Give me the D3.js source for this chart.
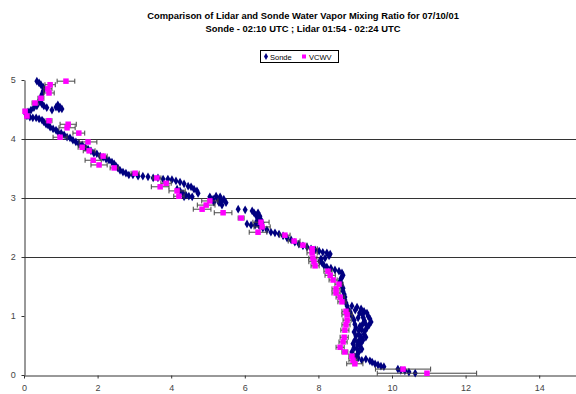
<!DOCTYPE html>
<html>
<head>
<meta charset="utf-8">
<script src="https://cdn.jsdelivr.net/npm/d3@7"></script>
<style>
  body { margin: 0; background: #ffffff; }
  svg { display: block; font-family: "Liberation Sans", Arial, sans-serif; }
</style>
</head>
<body>
<div id="chart"></div>
<script>
const titleLines = [
  'Comparison of Lidar and Sonde Water Vapor Mixing Ratio for 07/10/01',
  'Sonde - 02:10 UTC ; Lidar 01:54 - 02:24 UTC'
];
const seriesNames = ['Sonde', 'VCWV'];
const xTicks = [0, 2, 4, 6, 8, 10, 12, 14];
const yTicks = [0, 1, 2, 3, 4, 5];
const gridLevels = [2, 3, 4];

// sonde: [mixing ratio g/kg, altitude km]
const sondeData = [
  [0.35, 4.98], [0.41, 4.95], [0.46, 4.92], [0.52, 4.88], [0.54, 4.85], [0.52, 4.81], [0.49, 4.76],
  [0.46, 4.71], [0.43, 4.66], [0.43, 4.63], [0.49, 4.59], [0.54, 4.56], [0.62, 4.53], [0.76, 4.49],
  [0.87, 4.54], [0.92, 4.58], [0.98, 4.54], [1.03, 4.51], [0.95, 4.51], [0.35, 4.56], [0.27, 4.53],
  [0.19, 4.49], [0.11, 4.46], [0.05, 4.42], [0.08, 4.39], [0.16, 4.37], [0.24, 4.36], [0.33, 4.36],
  [0.41, 4.34], [0.49, 4.32], [0.54, 4.29], [0.60, 4.25], [0.65, 4.24], [0.71, 4.20], [0.79, 4.17],
  [0.87, 4.15], [0.92, 4.12], [1.01, 4.10], [1.09, 4.07], [1.17, 4.03], [1.25, 4.02], [1.33, 3.98],
  [1.41, 3.95], [1.49, 3.92], [1.58, 3.90], [1.66, 3.86], [1.74, 3.83], [1.82, 3.80], [1.90, 3.76],
  [1.98, 3.75], [2.07, 3.71], [2.15, 3.69], [2.23, 3.66], [2.31, 3.64], [2.39, 3.61], [2.45, 3.58],
  [2.50, 3.54], [2.55, 3.51], [2.61, 3.47], [2.69, 3.44], [2.77, 3.42], [2.85, 3.39], [2.96, 3.39],
  [3.10, 3.37], [3.23, 3.37], [3.37, 3.36], [3.51, 3.34], [3.64, 3.34], [3.78, 3.32], [3.91, 3.32],
  [4.02, 3.31], [4.13, 3.29], [4.24, 3.27], [4.35, 3.24], [4.46, 3.20], [4.54, 3.19], [4.62, 3.15],
  [4.70, 3.12], [4.73, 3.08], [4.16, 3.15], [4.24, 3.12], [4.32, 3.08], [4.40, 3.05], [4.48, 3.03],
  [4.57, 3.02], [4.35, 3.02], [5.05, 3.02], [5.14, 2.98], [5.22, 3.03], [5.27, 2.97], [5.33, 3.02],
  [5.38, 2.95], [5.43, 2.98], [5.30, 2.92], [5.38, 2.88], [5.16, 2.93], [5.49, 2.92], [5.82, 2.81],
  [6.01, 2.80], [6.20, 2.78], [6.25, 2.75], [6.30, 2.71], [6.36, 2.75], [6.41, 2.69], [6.36, 2.66],
  [6.44, 2.63], [6.33, 2.61], [6.47, 2.58], [6.06, 2.56], [6.17, 2.54], [6.28, 2.54], [6.39, 2.53],
  [6.49, 2.49], [6.60, 2.46], [6.71, 2.42], [6.82, 2.41], [6.93, 2.39], [7.04, 2.36], [7.15, 2.32],
  [7.26, 2.29], [7.36, 2.25], [7.47, 2.22], [7.58, 2.19], [7.69, 2.17], [7.80, 2.14], [7.91, 2.12],
  [8.02, 2.10], [8.12, 2.08], [8.23, 2.07], [8.32, 2.05], [8.29, 2.02], [8.18, 1.98], [8.07, 1.97],
  [8.04, 1.93], [8.10, 1.90], [8.15, 1.86], [8.23, 1.83], [8.34, 1.81], [8.45, 1.78], [8.56, 1.76],
  [8.64, 1.73], [8.67, 1.69], [8.64, 1.66], [8.61, 1.63], [8.59, 1.59], [8.61, 1.56], [8.64, 1.51],
  [8.67, 1.47], [8.67, 1.42], [8.70, 1.37], [8.72, 1.32], [8.72, 1.27], [8.75, 1.22], [8.78, 1.17],
  [8.80, 1.12], [8.91, 1.17], [9.05, 1.15], [9.16, 1.12], [9.24, 1.08], [9.32, 1.05], [9.35, 1.00],
  [9.40, 0.95], [9.43, 0.90], [9.38, 0.85], [9.32, 0.80], [9.27, 0.75], [9.24, 0.69], [9.29, 0.64],
  [9.21, 0.59], [9.16, 0.54], [9.13, 0.49], [9.18, 0.44], [9.10, 0.39], [9.05, 0.34], [8.99, 0.31],
  [8.86, 1.07], [8.91, 1.00], [8.97, 0.93], [8.99, 0.86], [9.02, 0.80], [8.97, 0.73], [9.02, 0.66],
  [8.99, 0.59], [8.94, 0.53], [8.97, 0.46], [8.91, 0.39], [9.08, 0.97], [9.13, 0.83], [9.10, 0.69],
  [9.08, 0.56], [9.05, 0.44], [9.20, 1.02], [9.25, 0.92], [9.20, 0.86], [9.18, 0.77], [9.16, 0.64],
  [9.13, 0.60], [9.06, 0.51], [9.22, 0.97], [9.28, 0.87], [9.12, 1.05], [9.00, 1.10], [9.10, 0.75],
  [9.08, 0.29], [9.18, 0.25], [9.29, 0.27], [9.40, 0.24], [9.46, 0.22],
  [9.54, 0.19], [9.62, 0.17], [9.70, 0.15], [9.78, 0.14], [10.16, 0.10], [10.24, 0.08], [10.35, 0.07],
  [10.46, 0.05], [10.63, 0.03]
];

// lidar: [mixing ratio g/kg, altitude km, error g/kg]
const lidarData = [
  [1.14, 4.98, 0.24], [0.71, 4.92, 0.14], [0.65, 4.85, 0.11], [0.68, 4.78, 0.14], [0.46, 4.69, 0.08],
  [0.30, 4.61, 0.08], [0.03, 4.47, 0.05], [0.08, 4.39, 0.05], [0.68, 4.31, 0.08], [1.20, 4.25, 0.22],
  [1.17, 4.19, 0.22], [1.49, 4.10, 0.16], [0.98, 4.03, 0.19], [1.74, 3.95, 0.24], [1.58, 3.86, 0.11],
  [1.77, 3.80, 0.16], [2.15, 3.71, 0.11], [1.88, 3.64, 0.22], [2.04, 3.56, 0.22], [2.45, 3.51, 0.11],
  [3.02, 3.42, 0.11], [3.61, 3.34, 0.11], [3.86, 3.25, 0.14], [3.70, 3.19, 0.24], [4.16, 3.12, 0.22],
  [4.21, 3.03, 0.14], [5.05, 2.95, 0.22], [4.95, 2.88, 0.24], [4.84, 2.81, 0.24], [5.41, 2.75, 0.24],
  [5.90, 2.66, 0.08], [6.44, 2.59, 0.22], [6.47, 2.51, 0.22], [6.36, 2.42, 0.24], [7.09, 2.37, 0.14],
  [7.34, 2.27, 0.16], [7.58, 2.20, 0.11], [7.83, 2.14, 0.14], [7.83, 2.07, 0.14], [7.85, 1.98, 0.11],
  [7.88, 1.92, 0.14], [7.91, 1.85, 0.11], [8.26, 1.76, 0.11], [8.32, 1.69, 0.14], [8.40, 1.61, 0.11],
  [8.56, 1.54, 0.11], [8.48, 1.46, 0.11], [8.48, 1.39, 0.11], [8.59, 1.32, 0.11], [8.64, 1.24, 0.11],
  [8.75, 1.08, 0.11], [8.78, 1.02, 0.14], [8.78, 0.93, 0.11], [8.75, 0.85, 0.11], [8.72, 0.76, 0.11],
  [8.70, 0.64, 0.11], [8.67, 0.56, 0.11], [8.59, 0.47, 0.11], [8.72, 0.39, 0.08], [8.91, 0.32, 0.08],
  [8.94, 0.25, 0.11], [8.99, 0.19, 0.22], [10.30, 0.10, 0.75], [10.95, 0.03, 1.35]
];

const width = 576;
const height = 394;
const plot = { left: 24, right: 576, top: 80, bottom: 375 };
const sondeColor = '#000080';
const lidarColor = '#ff00ff';

const svg = d3.select('#chart').append('svg')
  .attr('width', width)
  .attr('height', height)
  .attr('viewBox', `0 0 ${width} ${height}`);

const x = d3.scaleLinear().domain([0, 15]).range([plot.left, plot.right]);
const y = d3.scaleLinear().domain([0, 5]).range([plot.bottom, plot.top]);

// title
svg.append('g').selectAll('text')
  .data(titleLines)
  .enter().append('text')
  .attr('x', 303)
  .attr('y', (d, i) => 19 + i * 13)
  .attr('text-anchor', 'middle')
  .attr('font-size', '9.4px')
  .attr('font-weight', 'bold')
  .attr('fill', '#000')
  .text((d) => d);

// grid lines at selected levels
svg.append('g').selectAll('line')
  .data(gridLevels)
  .enter().append('line')
  .attr('x1', plot.left)
  .attr('x2', plot.right)
  .attr('y1', (d) => Math.round(y(d)) + 0.5)
  .attr('y2', (d) => Math.round(y(d)) + 0.5)
  .attr('stroke', '#333')
  .attr('stroke-width', 1);

// axes
const xAxis = svg.append('g')
  .attr('transform', `translate(0,${plot.bottom + 0.5})`)
  .call(d3.axisBottom(x).tickValues(xTicks).tickSize(3).tickSizeOuter(0).tickFormat(d3.format('d')));
const yAxis = svg.append('g')
  .attr('transform', `translate(${plot.left + 0.5},0)`)
  .call(d3.axisLeft(y).tickValues(yTicks).tickSize(3).tickSizeOuter(0).tickFormat(d3.format('d')));

[xAxis, yAxis].forEach((axis) => {
  axis.select('.domain').attr('stroke', '#333');
  axis.selectAll('.tick line').attr('stroke', '#333');
  axis.selectAll('.tick text')
    .attr('font-family', '"Liberation Sans", Arial, sans-serif')
    .attr('font-size', '9px')
    .attr('fill', '#444');
});
xAxis.selectAll('.tick text').attr('dy', '1.1em');
yAxis.selectAll('.tick text').attr('dx', '-0.3em');

// sonde diamonds
const diamond = d3.symbol().type(d3.symbolDiamond).size(22);
svg.append('g').selectAll('path')
  .data(sondeData)
  .enter().append('path')
  .attr('d', diamond)
  .attr('transform', (d) => `translate(${x(d[0])},${y(d[1])})`)
  .attr('fill', sondeColor);

// lidar error bars
const bars = svg.append('g')
  .attr('stroke', '#444')
  .attr('stroke-width', 1)
  .selectAll('g')
  .data(lidarData)
  .enter().append('g');

bars.append('line')
  .attr('x1', (d) => x(d[0] - d[2]))
  .attr('x2', (d) => x(d[0] + d[2]))
  .attr('y1', (d) => y(d[1]))
  .attr('y2', (d) => y(d[1]));
bars.append('line')
  .attr('x1', (d) => x(d[0] - d[2]))
  .attr('x2', (d) => x(d[0] - d[2]))
  .attr('y1', (d) => y(d[1]) - 2.5)
  .attr('y2', (d) => y(d[1]) + 2.5);
bars.append('line')
  .attr('x1', (d) => x(d[0] + d[2]))
  .attr('x2', (d) => x(d[0] + d[2]))
  .attr('y1', (d) => y(d[1]) - 2.5)
  .attr('y2', (d) => y(d[1]) + 2.5);

// lidar squares
svg.append('g').selectAll('rect')
  .data(lidarData)
  .enter().append('rect')
  .attr('x', (d) => x(d[0]) - 2.75)
  .attr('y', (d) => y(d[1]) - 2.75)
  .attr('width', 5.5)
  .attr('height', 5.5)
  .attr('fill', lidarColor);

// legend
const legend = svg.append('g').attr('transform', 'translate(260,50)');
legend.append('rect')
  .attr('x', 0.5)
  .attr('y', 0.5)
  .attr('width', 78)
  .attr('height', 12)
  .attr('fill', '#fff')
  .attr('stroke', '#000');
legend.append('path')
  .attr('d', d3.symbol().type(d3.symbolDiamond).size(14))
  .attr('transform', 'translate(6,6.5)')
  .attr('fill', sondeColor);
legend.append('rect')
  .attr('x', 42)
  .attr('y', 4.5)
  .attr('width', 4)
  .attr('height', 4)
  .attr('fill', lidarColor);
legend.selectAll('text')
  .data(seriesNames)
  .enter().append('text')
  .attr('x', (d, i) => (i === 0 ? 10 : 49))
  .attr('y', 9.5)
  .attr('font-size', '7.5px')
  .attr('fill', '#000')
  .text((d) => d);
</script>
</body>
</html>
